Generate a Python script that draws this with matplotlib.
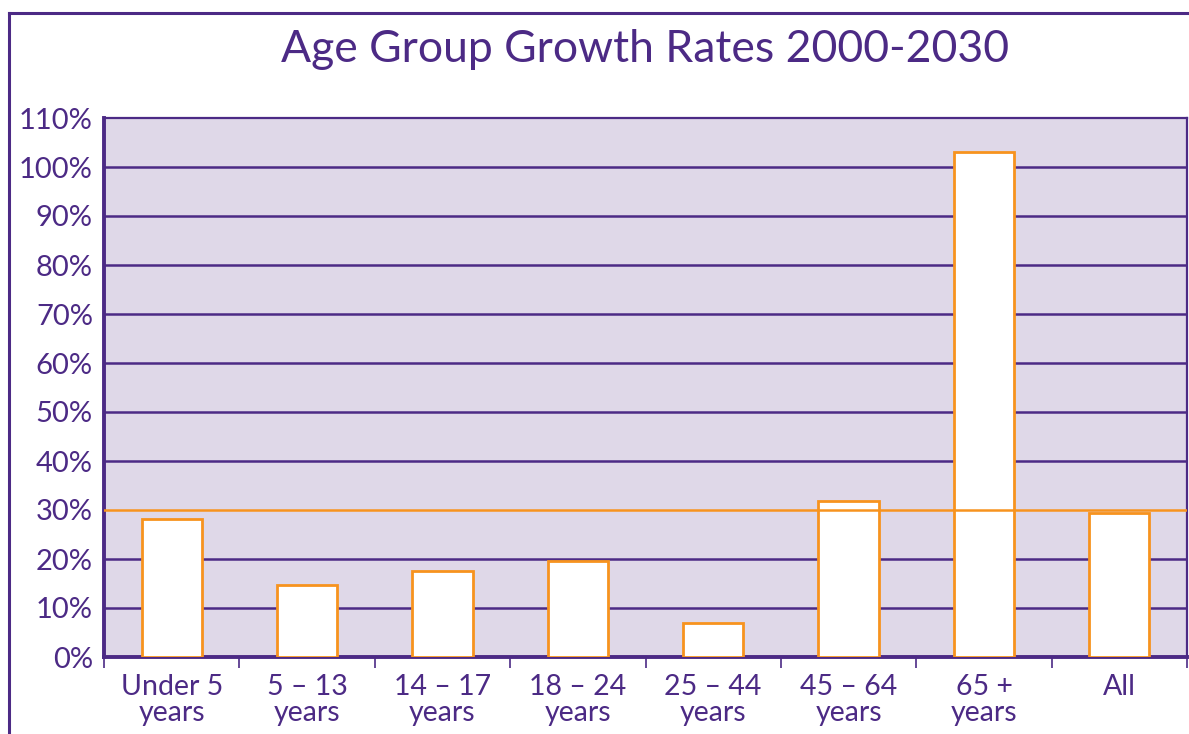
import matplotlib.pyplot as plt
from matplotlib.lines import Line2D

PURPLE = '#4c2a85'
ORANGE = '#f7931e'
BG = '#dfd8e8'

categories = ['Under 5\nyears', '5 \u2013 13\nyears', '14 \u2013 17\nyears',
              '18 \u2013 24\nyears', '25 \u2013 44\nyears', '45 \u2013 64\nyears',
              '65 +\nyears', 'All']
growth = [28.2, 14.7, 17.6, 19.5, 6.9, 31.9, 103.0, 29.4]
ref_line = 30
yticks = list(range(0, 111, 10))

plt.rcParams['font.family'] = ['Lato', 'DejaVu Sans']

fig = plt.figure(figsize=(11.89, 7.34), dpi=100)
ax = fig.add_axes([104 / 1189, 77 / 734, 1083 / 1189, 539 / 734])
ax.set_facecolor(BG)

x = list(range(len(categories)))
ax.bar(x, growth, width=0.445, color='white', edgecolor=ORANGE,
       linewidth=2.0, zorder=3)
ax.axhline(ref_line, color=ORANGE, lw=1.8, zorder=4)

# gridlines (purple), skip 0 and the top
for v in yticks[1:-1]:
    if v == ref_line:
        continue
    ax.axhline(v, color=PURPLE, lw=1.8, zorder=1)

ax.set_xlim(-0.5, len(categories) - 0.5)
ax.set_ylim(0, 110)
ax.set_yticks(yticks)
ax.set_yticklabels([f'{v}%' for v in yticks], fontsize=21, color=PURPLE)
ax.tick_params(axis='y', length=0, pad=8)

ax.set_xticks([i - 0.5 for i in range(len(categories) + 1)])
ax.set_xticklabels([])
ax.set_xticks(x, minor=True)
ax.set_xticklabels(categories, minor=True, fontsize=20.5, color=PURPLE,
                   linespacing=1.0)
ax.tick_params(axis='x', which='major', length=8, width=1.2, color=PURPLE,
               direction='out')
ax.tick_params(axis='x', which='minor', length=0, pad=12)

for side in ['left', 'bottom']:
    ax.spines[side].set_color(PURPLE)
    ax.spines[side].set_linewidth(2.8)
for side in ['top', 'right']:
    ax.spines[side].set_color(PURPLE)
    ax.spines[side].set_linewidth(1.6)

ax.set_title('Age Group Growth Rates 2000-2030', fontsize=32, color=PURPLE,
             pad=40)

# outer frame of the page
fig.add_artist(Line2D([8.5 / 1189, 8.5 / 1189], [0, 1 - 12.5 / 734],
                      transform=fig.transFigure, color=PURPLE, lw=2.2))
fig.add_artist(Line2D([8.5 / 1189, 1], [1 - 12.5 / 734, 1 - 12.5 / 734],
                      transform=fig.transFigure, color=PURPLE, lw=2.2))

fig.savefig('out.png', dpi=100)
